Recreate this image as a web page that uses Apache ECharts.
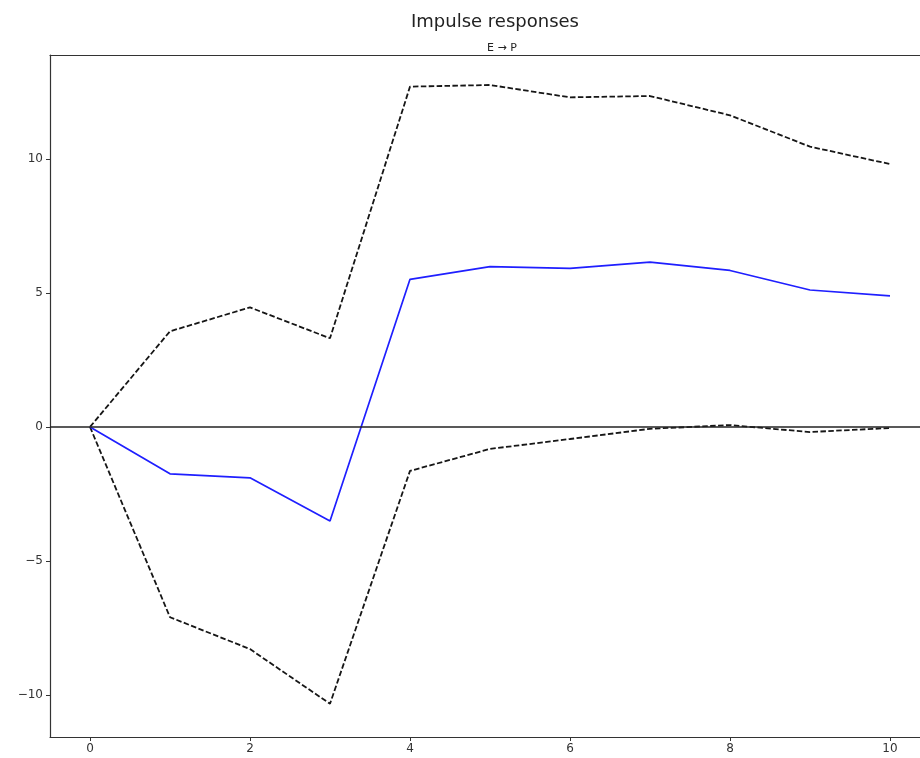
<!DOCTYPE html>
<html>
<head>
<meta charset="utf-8">
<script src="https://cdn.jsdelivr.net/npm/echarts@6/dist/echarts.min.js"></script>
<style>
  html, body { margin: 0; padding: 0; background: #fff; }
  #chart { width: 920px; height: 758px; }
</style>
</head>
<body>
<div id="chart"></div>
<script>
// Horizon (periods after the shock)
const periods = [0, 1, 2, 3, 4, 5, 6, 7, 8, 9, 10];
// Response of P to a shock in E
const response = [0, -1.75, -1.90, -3.51, 5.51, 5.98, 5.92, 6.15, 5.84, 5.11, 4.89];
// Confidence band
const upperBand = [0, 3.57, 4.46, 3.31, 12.70, 12.76, 12.30, 12.35, 11.63, 10.46, 9.81];
const lowerBand = [0, -7.10, -8.29, -10.33, -1.64, -0.82, -0.45, -0.07, 0.07, -0.19, -0.04];
// Tick labels
const xTicks = [0, 2, 4, 6, 8, 10];
const yTicks = [-10, -5, 0, 5, 10];

const pairs = (ys) => periods.map((p, i) => [p, ys[i]]);
const fmt = (v) => (v < 0 ? '\u2212' + Math.abs(v) : String(v));
const FONT = 'DejaVu Sans';
const X_MIN = -0.5, X_MAX = 10.375;  // the frame runs past the right edge of the page

const chart = echarts.init(document.getElementById('chart'), null, { renderer: 'canvas' });
chart.setOption({
  animation: false,
  backgroundColor: '#ffffff',
  title: [
    { text: 'Impulse responses', left: 490, top: 8, textAlign: 'center',
      textStyle: { fontFamily: FONT, fontSize: 18, fontWeight: 'normal', color: '#222' } },
    { text: 'E \u2192 P', left: 497, top: 38, textAlign: 'center',
      textStyle: { fontFamily: FONT, fontSize: 11, fontWeight: 'normal', color: '#222' } }
  ],
  grid: { left: 50, top: 55, right: 0, bottom: 21, show: false },
  xAxis: [
    {
      type: 'value', min: X_MIN, max: X_MAX, position: 'bottom',
      axisLine: { show: true, onZero: false, lineStyle: { color: '#333', width: 1.2 } },
      axisTick: { show: true, length: 4, inside: false, customValues: xTicks, lineStyle: { color: '#333' } },
      axisLabel: { customValues: xTicks, formatter: fmt, fontFamily: FONT, fontSize: 12, color: '#333', margin: 6 },
      splitLine: { show: false }
    },
    {
      // top spine of the frame
      type: 'value', min: X_MIN, max: X_MAX, position: 'top',
      axisLine: { show: true, onZero: false, lineStyle: { color: '#333', width: 1.2 } },
      axisTick: { show: false }, axisLabel: { show: false }, splitLine: { show: false }
    }
  ],
  yAxis: {
    type: 'value', min: -11.57, max: 13.88,
    axisLine: { show: true, onZero: false, lineStyle: { color: '#333', width: 1.2 } },
    axisTick: { show: true, length: 4, inside: false, customValues: yTicks, lineStyle: { color: '#333' } },
    axisLabel: { customValues: yTicks, formatter: fmt, fontFamily: FONT, fontSize: 12, color: '#333', margin: 7 },
    splitLine: { show: false }
  },
  series: [
    {
      name: 'upper', type: 'line', data: pairs(upperBand), symbol: 'none',
      lineStyle: { color: '#161616', width: 1.8, type: [5.5, 2.4] }, z: 3
    },
    {
      name: 'lower', type: 'line', data: pairs(lowerBand), symbol: 'none',
      lineStyle: { color: '#161616', width: 1.8, type: [5.5, 2.4] }, z: 3
    },
    {
      name: 'response', type: 'line', data: pairs(response), symbol: 'none',
      lineStyle: { color: '#1f1fff', width: 1.7 }, z: 4,
      markLine: {
        silent: true, symbol: 'none', label: { show: false },
        lineStyle: { color: '#222', width: 1.5, type: 'solid' },
        data: [{ yAxis: 0 }]
      }
    }
  ]
});
</script>
</body>
</html>
